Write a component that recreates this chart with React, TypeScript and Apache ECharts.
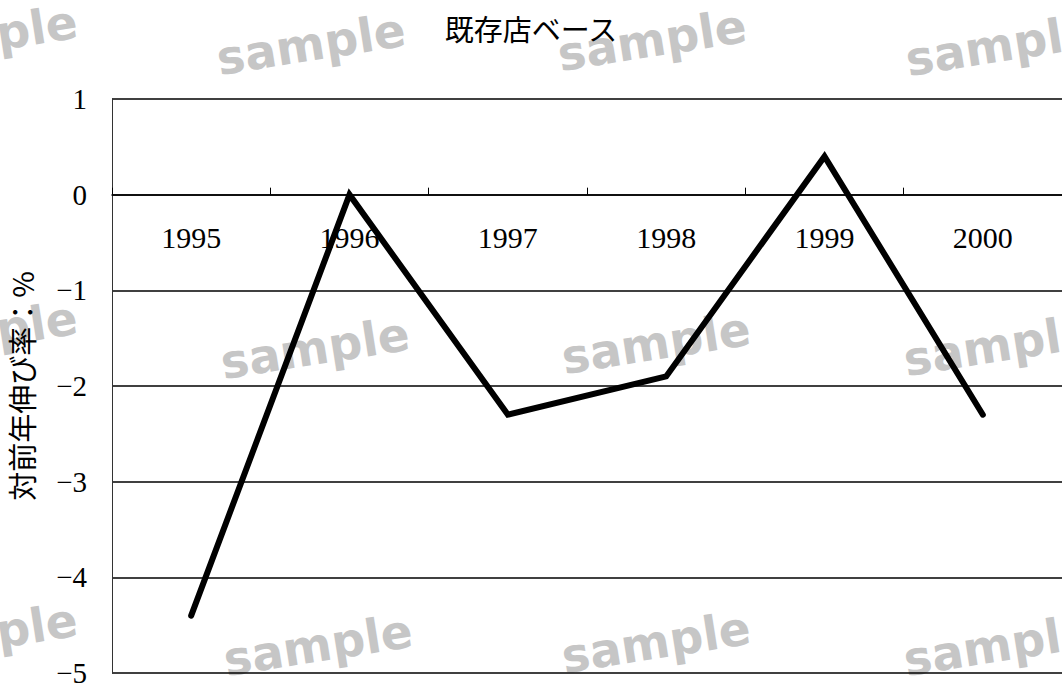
import React, { useEffect, useRef } from "react";
import * as echarts from "echarts";

// Fiscal years on the category axis
const years = ["1995", "1996", "1997", "1998", "1999", "2000"];
// Year-on-year growth of existing stores (%)
const growth = [-4.4, 0, -2.3, -1.9, 0.4, -2.3];
// Value axis range
const yMin = -5;
const yMax = 1;

const title = "既存店ベース";
const yName = "対前年伸び率：%";
const stampText = "sample";

// Centres of the repeated "sample" stamps
const stamps: [number, number][] = [
  [-17, 36], [311, 44], [652, 40], [1000, 45],
  [-17, 332], [315, 348], [656, 343], [998, 345],
  [-17, 634], [318, 645], [656, 642], [998, 645],
];

const serif = "'Liberation Serif', 'DejaVu Serif', serif";
const cjk = "'Noto Sans CJK JP', 'Noto Sans', sans-serif";

// Plot area
const gridTop = 99;
const gridBottom = 16;
const chartH = 689;

export default function App() {
  const ref = useRef<HTMLDivElement>(null);

  useEffect(() => {
    document.body.style.margin = "0";
    if (!ref.current) return;
    const chart = echarts.init(ref.current, null, { renderer: "svg" });

    // the category axis sits on the zero line of the value axis
    const plotH = chartH - gridTop - gridBottom;
    const zeroOffset = -plotH * (0 - yMin) / (yMax - yMin);

    chart.setOption({
      animation: false,
      backgroundColor: "#ffffff",
      title: {
        text: title,
        left: "center",
        top: 8,
        textStyle: {
          fontFamily: cjk,
          fontSize: 29,
          fontWeight: "normal",
          color: "#000",
        },
      },
      grid: { left: 112, right: 0, top: gridTop, bottom: gridBottom, outerBoundsMode: "none", containLabel: false },
      xAxis: {
        type: "category",
        data: years,
        boundaryGap: true,
        position: "bottom",
        offset: zeroOffset,
        axisLine: { show: true, onZero: false, lineStyle: { color: "#000", width: 1.5 } },
        axisTick: { show: true, inside: true, length: 7, interval: 0, lineStyle: { color: "#000", width: 1 } },
        axisLabel: {
          margin: 28,
          fontFamily: serif,
          fontSize: 30,
          color: "#000",
        },
        splitLine: { show: false },
      },
      yAxis: {
        type: "value",
        min: yMin,
        max: yMax,
        interval: 1,
        name: yName,
        nameLocation: "middle",
        nameRotate: 90,
        nameGap: 77,
        nameTextStyle: { fontFamily: cjk, fontSize: 29, color: "#000" },
        axisLine: { show: true, lineStyle: { color: "#333", width: 1 } },
        axisTick: { show: false },
        axisLabel: {
          margin: 25,
          fontFamily: serif,
          fontSize: 29,
          color: "#000",
          formatter: (v: number) => (v < 0 ? "\u2212" + Math.abs(v) : String(v)),
        },
        splitLine: { show: true, lineStyle: { color: "#000", width: 1.5 } },
      },
      series: [
        {
          type: "line",
          data: growth,
          symbol: "none",
          z: 5,
          lineStyle: { color: "#000", width: 6, cap: "round", join: "miter" },
        },
      ],
      graphic: stamps.map(([x, y]) => ({
        type: "group",
        x,
        y,
        rotation: 0.157,
        z: -1,
        silent: true,
        children: [
          {
            type: "text",
            style: {
              text: stampText,
              x: 0,
              y: 0,
              align: "center",
              verticalAlign: "middle",
              fontFamily: "'DejaVu Sans', sans-serif",
              fontWeight: "bold",
              fontSize: 47,
              fill: "#c6c6c6",
            },
          },
        ],
      })),
    });

    return () => chart.dispose();
  }, []);

  return <div ref={ref} style={{ width: 1062, height: chartH }} />;
}
